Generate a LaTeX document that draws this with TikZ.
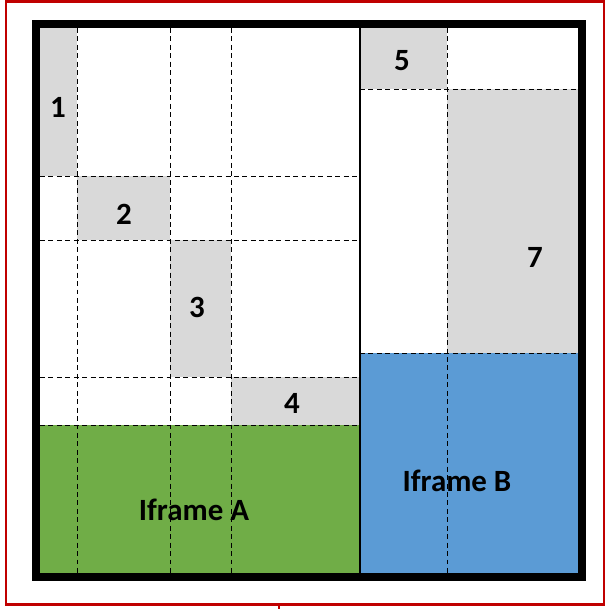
\documentclass[tikz,border=0pt]{standalone}
\usepackage{fontspec}
\setmainfont{Carlito}
\usepackage{tikz}
\usetikzlibrary{positioning}
\definecolor{iframeA}{HTML}{70AD47}
\definecolor{iframeB}{HTML}{5B9BD5}
\definecolor{slotgray}{HTML}{D9D9D9}
\definecolor{pagered}{HTML}{C00000}

\begin{document}
\begin{tikzpicture}[x=0.025cm, y=-0.025cm,
    slot/.style={fill=slotgray},
    gridline/.style={dash pattern=on 3.5pt off 2.5pt, line width=0.7pt, black},
    lbl/.style={font=\bfseries\fontsize{22}{26}\selectfont, inner sep=0pt}
]
\useasboundingbox (0,0) rectangle (610,610);
\draw[pagered, line width=1.6pt] (6,1.5) rectangle (604,604.5);
\draw[pagered, line width=1.6pt] (279,604) -- (279,609);

% filled slots
\fill[slot] (40,28) rectangle (77,176);
\fill[slot] (77,176) rectangle (170,240);
\fill[slot] (170,240) rectangle (231,377);
\fill[slot] (231,377) rectangle (360,425);
\fill[slot] (360,28) rectangle (447,89);
\fill[slot] (447,89) rectangle (578,353);
\fill[iframeA] (40,425) rectangle (360,573);
\fill[iframeB] (360,353) rectangle (578,573);

% grid lines
\foreach \x in {77,170,231} \draw[gridline] (\x,28) -- (\x,573);
\foreach \y in {176,240,377,425} \draw[gridline] (40,\y) -- (360,\y);
\draw[gridline] (447,28) -- (447,573);
\foreach \y in {89,353} \draw[gridline] (360,\y) -- (578,\y);

\draw[line width=1.4pt] (360,28) -- (360,573);
\draw[line width=6pt] (36,24) rectangle (582,577);

\node[lbl] (n1) at (58,107) {1};
\node[lbl] (n2) at (124,214) {2};
\node[lbl] (n3) at (197,307) {3};
\node[lbl] (n4) at (292,403) {4};
\node[lbl] (n5) at (402,61) {5};
\node[lbl] (n7) at (535,257) {7};
\node[lbl] (fa) at (194,510) {Iframe A};
\node[lbl] (fb) at (457,481) {Iframe B};
\end{tikzpicture}
\end{document}
